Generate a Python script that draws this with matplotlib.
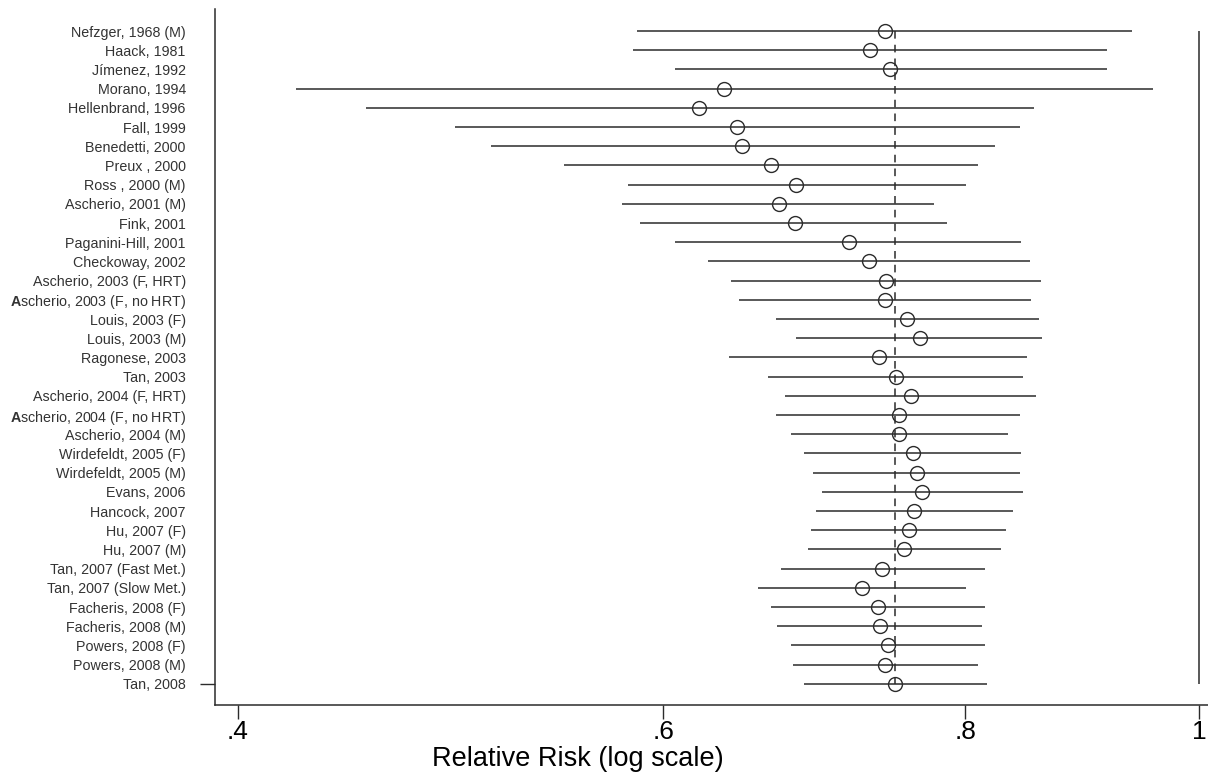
import numpy as np
import matplotlib
matplotlib.use("Agg")
import matplotlib.pyplot as plt
from matplotlib.ticker import FixedLocator, NullLocator

plt.rcParams["font.family"] = ["Liberation Sans", "DejaVu Sans"]
plt.rcParams["mathtext.fontset"] = "custom"
plt.rcParams["mathtext.bf"] = "Liberation Sans:bold"
plt.rcParams["mathtext.rm"] = "Liberation Sans"

studies = [
    "Nefzger, 1968 (M)", "Haack, 1981", "Jímenez, 1992", "Morano, 1994",
    "Hellenbrand, 1996", "Fall, 1999", "Benedetti, 2000", "Preux , 2000",
    "Ross , 2000 (M)", "Ascherio, 2001 (M)", "Fink, 2001", "Paganini-Hill, 2001",
    "Checkoway, 2002", "Ascherio, 2003 (F, HRT)", r"$\mathbf{A}$scherio, 2003 (F, no HRT)",
    "Louis, 2003 (F)", "Louis, 2003 (M)", "Ragonese, 2003", "Tan, 2003",
    "Ascherio, 2004 (F, HRT)", r"$\mathbf{A}$scherio, 2004 (F, no HRT)", "Ascherio, 2004 (M)",
    "Wirdefeldt, 2005 (F)", "Wirdefeldt, 2005 (M)", "Evans, 2006", "Hancock, 2007",
    "Hu, 2007 (F)", "Hu, 2007 (M)", "Tan, 2007 (Fast Met.)", "Tan, 2007 (Slow Met.)",
    "Facheris, 2008 (F)", "Facheris, 2008 (M)", "Powers, 2008 (F)",
    "Powers, 2008 (M)", "Tan, 2008",
]

# cumulative relative risk and 95% CI
rr = [0.741, 0.731, 0.745, 0.636, 0.621, 0.644, 0.647, 0.665, 0.681, 0.670,
      0.680, 0.716, 0.730, 0.742, 0.741, 0.757, 0.766, 0.737, 0.749, 0.760,
      0.751, 0.751, 0.761, 0.764, 0.768, 0.762, 0.758, 0.755, 0.739, 0.725,
      0.736, 0.738, 0.743, 0.741, 0.748]
lower = [0.585, 0.583, 0.607, 0.423, 0.452, 0.492, 0.509, 0.546, 0.580, 0.577,
         0.587, 0.607, 0.626, 0.640, 0.645, 0.668, 0.681, 0.639, 0.663, 0.674,
         0.668, 0.678, 0.686, 0.692, 0.698, 0.694, 0.691, 0.689, 0.671, 0.657,
         0.665, 0.669, 0.678, 0.679, 0.686]
upper = [0.938, 0.916, 0.916, 0.957, 0.854, 0.843, 0.823, 0.810, 0.801, 0.777,
         0.786, 0.844, 0.851, 0.860, 0.852, 0.858, 0.861, 0.849, 0.845, 0.856,
         0.843, 0.833, 0.844, 0.843, 0.845, 0.837, 0.832, 0.828, 0.815, 0.801,
         0.815, 0.813, 0.815, 0.810, 0.817]
pooled = 0.748

xticks = [0.4, 0.6, 0.8, 1.0]
xtick_labels = [".4", ".6", ".8", "1"]

W, H = 1208, 773
fig = plt.figure(figsize=(W / 100, H / 100), dpi=100)
ax = fig.add_axes([215 / W, 1 - 705 / H, (W - 215) / W, (705 - 9) / H])

rows = np.arange(len(studies))
line_col = "#2b2b2b"

ax.hlines(rows, lower, upper, color=line_col, lw=1.1, zorder=2)
ax.plot(rr, rows, "o", ms=10, mfc="none", mec=line_col, mew=1.0, zorder=3)
ax.vlines(pooled, rows[0], rows[-1], color=line_col, lw=1.1,
          linestyles=(0, (5, 4)), zorder=1)
ax.vlines(1.0, rows[0], rows[-1], color=line_col, lw=1.1, zorder=1)

ax.set_xscale("log")
ax.set_xlim(0.3914, 1.0084)
ax.set_ylim(35.1, -1.15)

ax.xaxis.set_major_locator(FixedLocator(xticks))
ax.xaxis.set_minor_locator(NullLocator())
ax.set_xticklabels(xtick_labels, fontsize=19)
ax.tick_params(axis="x", length=10, width=1, color=line_col, pad=1)
ax.set_xlabel("Relative Risk (log scale)", fontsize=19.5, labelpad=0)
ax.xaxis.set_label_coords((578 - 215) / (W - 215), -0.0585)

ax.set_yticks(rows)
ax.set_yticklabels(studies, fontsize=10.3, color="#333333")
ax.tick_params(axis="y", which="major", length=0, pad=21)
ax.yaxis.remove_overlapping_locs = False
ax.set_yticks([rows[-1]], minor=True)
ax.tick_params(axis="y", which="minor", length=11, width=1, color=line_col)

for side in ["top", "right"]:
    ax.spines[side].set_visible(False)
for side in ["left", "bottom"]:
    ax.spines[side].set_color(line_col)
    ax.spines[side].set_linewidth(1.1)

fig.savefig("out.png", dpi=100)
